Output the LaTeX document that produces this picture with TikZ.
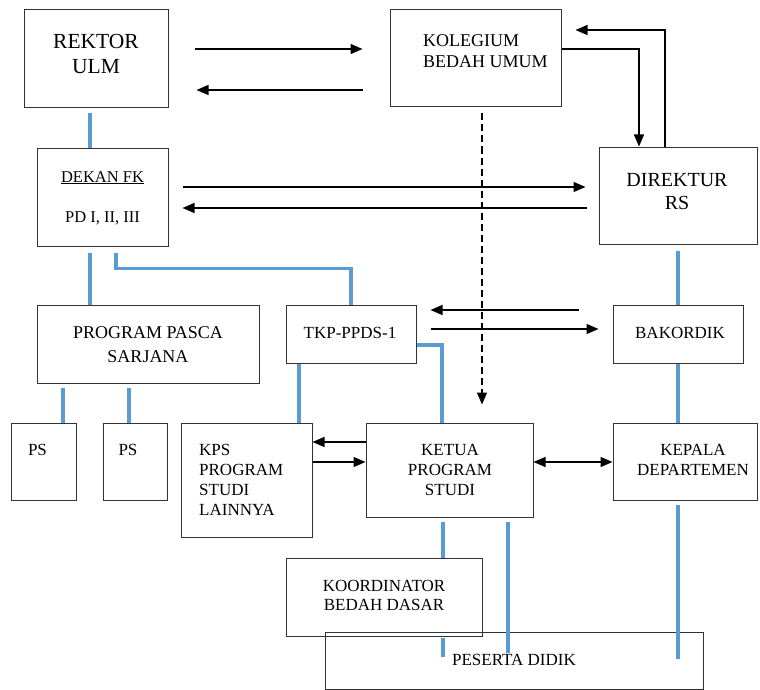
\documentclass[tikz,border=0pt]{standalone}
\usepackage{fontspec}
\setmainfont{Liberation Serif}
\usetikzlibrary{arrows.meta}
\definecolor{orgblue}{HTML}{5B9BD5}

\begin{document}
\begin{tikzpicture}[x=1pt,y=-1pt,
	box/.style={draw=black!80,line width=1pt,rectangle,inner sep=0pt},
	lbl/.style={align=center,inner sep=0pt,text=black,font=\fontsize{17}{20}\selectfont},
	arr/.style={-{Triangle[length=12pt,width=10pt]},line width=1.2pt},
	org/.style={line width=3.5pt,color=orgblue}]
	\useasboundingbox (0,0) rectangle (760,690);
	\node[box,minimum width=144,minimum height=98] (rektor) at (96,59) {};
	\node[box,minimum width=171,minimum height=97] (kolegium) at (475.5,58.5) {};
	\node[box,minimum width=158,minimum height=97] (direktur) at (678,195.5) {};
	\node[box,minimum width=131,minimum height=98] (dekan) at (102.5,197) {};
	\node[box,minimum width=222,minimum height=78] (pasca) at (148,344) {};
	\node[box,minimum width=130,minimum height=58] (tkp) at (351,334) {};
	\node[box,minimum width=130,minimum height=58] (bakordik) at (678,334) {};
	\node[box,minimum width=65,minimum height=77] (ps1) at (43.5,461.5) {};
	\node[box,minimum width=64,minimum height=77] (ps2) at (135,461.5) {};
	\node[box,minimum width=131,minimum height=114] (kps) at (246.5,480) {};
	\node[box,minimum width=167,minimum height=94] (ketua) at (449.5,470) {};
	\node[box,minimum width=144,minimum height=77] (kepala) at (685,461.5) {};
	\node[box,minimum width=196,minimum height=78] (koord) at (384,597) {};
	\node[box,minimum width=378,minimum height=57] (peserta) at (514,660.5) {};

	\node[lbl,font=\fontsize{21.5}{25}\selectfont] (rektor-t) at (96,53.5) {REKTOR\\ULM};
	\node[lbl,align=left,anchor=west,font=\fontsize{18}{21}\selectfont] (kolegium-t) at (423,51.5) {KOLEGIUM\\BEDAH UMUM};
	\node[lbl,font=\fontsize{20}{23}\selectfont] (direktur-t) at (677,191.5) {DIREKTUR\\RS};
	\node[lbl,anchor=base,font=\fontsize{16.5}{20}\selectfont] (dekan-a) at (102.5,182) {\underline{DEKAN FK}};
	\node[lbl,anchor=base,font=\fontsize{16.5}{20}\selectfont] (dekan-b) at (102.5,222) {PD I, II, III};
	\node[lbl,font=\fontsize{18}{24}\selectfont] (pasca-t) at (148,345) {PROGRAM PASCA\\SARJANA};
	\node[lbl] (tkp-t) at (350,333) {TKP-PPDS-1};
	\node[lbl] (bakordik-t) at (680,333) {BAKORDIK};
	\node[lbl] (ps1-t) at (37.5,450) {PS};
	\node[lbl] (ps2-t) at (128,450) {PS};
	\node[lbl,align=left,anchor=west] (kps-t) at (199,480) {KPS\\PROGRAM\\STUDI\\LAINNYA};
	\node[lbl] (ketua-t) at (450,470) {KETUA\\PROGRAM\\STUDI};
	\node[lbl] (kepala-t) at (693,460) {KEPALA\\DEPARTEMEN};
	\node[lbl,font=\fontsize{17}{19}\selectfont] (koord-t) at (384,595.5) {KOORDINATOR\\BEDAH DASAR};
	\node[lbl] (peserta-t) at (514,660) {PESERTA DIDIK};

	\draw[org,shorten <=5] ([xshift=-12.5]dekan.north |- rektor.south) -- ([xshift=-12.5]dekan.north);
	\draw[org,shorten <=6] ([xshift=-58]pasca.north |- dekan.south) -- ([xshift=-58]pasca.north);
	\draw[org,shorten <=6] ([xshift=13.5]dekan.south) -- ++(0,22) -| (tkp.north);
	\draw[org,shorten <=4] ([xshift=19.5]ps1.north |- pasca.south) -- ([xshift=19.5]ps1.north);
	\draw[org,shorten <=4] ([xshift=-6]ps2.north |- pasca.south) -- ([xshift=-6]ps2.north);
	\draw[org] ([xshift=52.5]kps.north |- tkp.south) -- ([xshift=52.5]kps.north);
	\draw[org] ([yshift=-11]tkp.east) -| ([xshift=-7.5]ketua.north);
	\draw[org,shorten <=6] (direktur.south) -- (bakordik.north);
	\draw[org] (bakordik.south) -- ([xshift=-7]kepala.north);
	\draw[org,shorten <=4] ([xshift=59]koord.north |- ketua.south) -- ([xshift=59]koord.north);
	\draw[org,shorten <=1] ([xshift=59]koord.south) -- ([xshift=-71,yshift=3.5]peserta.center);
	\draw[org,shorten <=4] ([xshift=-6]peserta.center |- ketua.south) -- ([xshift=-6,yshift=7.5]peserta.center);
	\draw[org,shorten <=4] ([xshift=-7]kepala.south) -- ([xshift=164,yshift=1.5]peserta.center);

	\draw[arr,shorten <=26,shorten >=27] ([yshift=10]rektor.east) -- ([yshift=10]rektor.east -| kolegium.west);
	\draw[arr,shorten <=27,shorten >=28] ([yshift=-31]rektor.east -| kolegium.west) -- ([yshift=-31]rektor.east);
	\draw[arr] ([yshift=9.5]kolegium.east) -| ([xshift=-39]direktur.north);
	\draw[arr,shorten >=14] ([xshift=-13]direktur.north) |- ([yshift=28.5]kolegium.east);
	\draw[arr,shorten <=14,shorten >=13] ([yshift=10]dekan.east) -- ([yshift=10]dekan.east -| direktur.west);
	\draw[arr,shorten <=12,shorten >=14] ([yshift=-11]dekan.east -| direktur.west) -- ([yshift=-11]dekan.east);
	\draw[arr,dash pattern=on 7pt off 4pt,shorten <=6,shorten >=18] ([xshift=6.5]kolegium.south) -- ([xshift=6.5]kolegium.south |- ketua.north);
	\draw[arr,shorten <=34,shorten >=14] ([yshift=24]tkp.east -| bakordik.west) -- ([yshift=24]tkp.east);
	\draw[arr,shorten <=14,shorten >=14] ([yshift=5]tkp.east) -- ([yshift=5]tkp.east -| bakordik.west);
	\draw[arr] ([yshift=38]kps.east -| ketua.west) -- ([yshift=38]kps.east);
	\draw[arr] ([yshift=18]kps.east) -- ([yshift=18]kps.east -| ketua.west);
	\draw[arr,{Triangle[length=12pt,width=10pt]}-{Triangle[length=12pt,width=10pt]}] ([yshift=8]ketua.east) -- ([yshift=8]ketua.east -| kepala.west);
\end{tikzpicture}
\end{document}
